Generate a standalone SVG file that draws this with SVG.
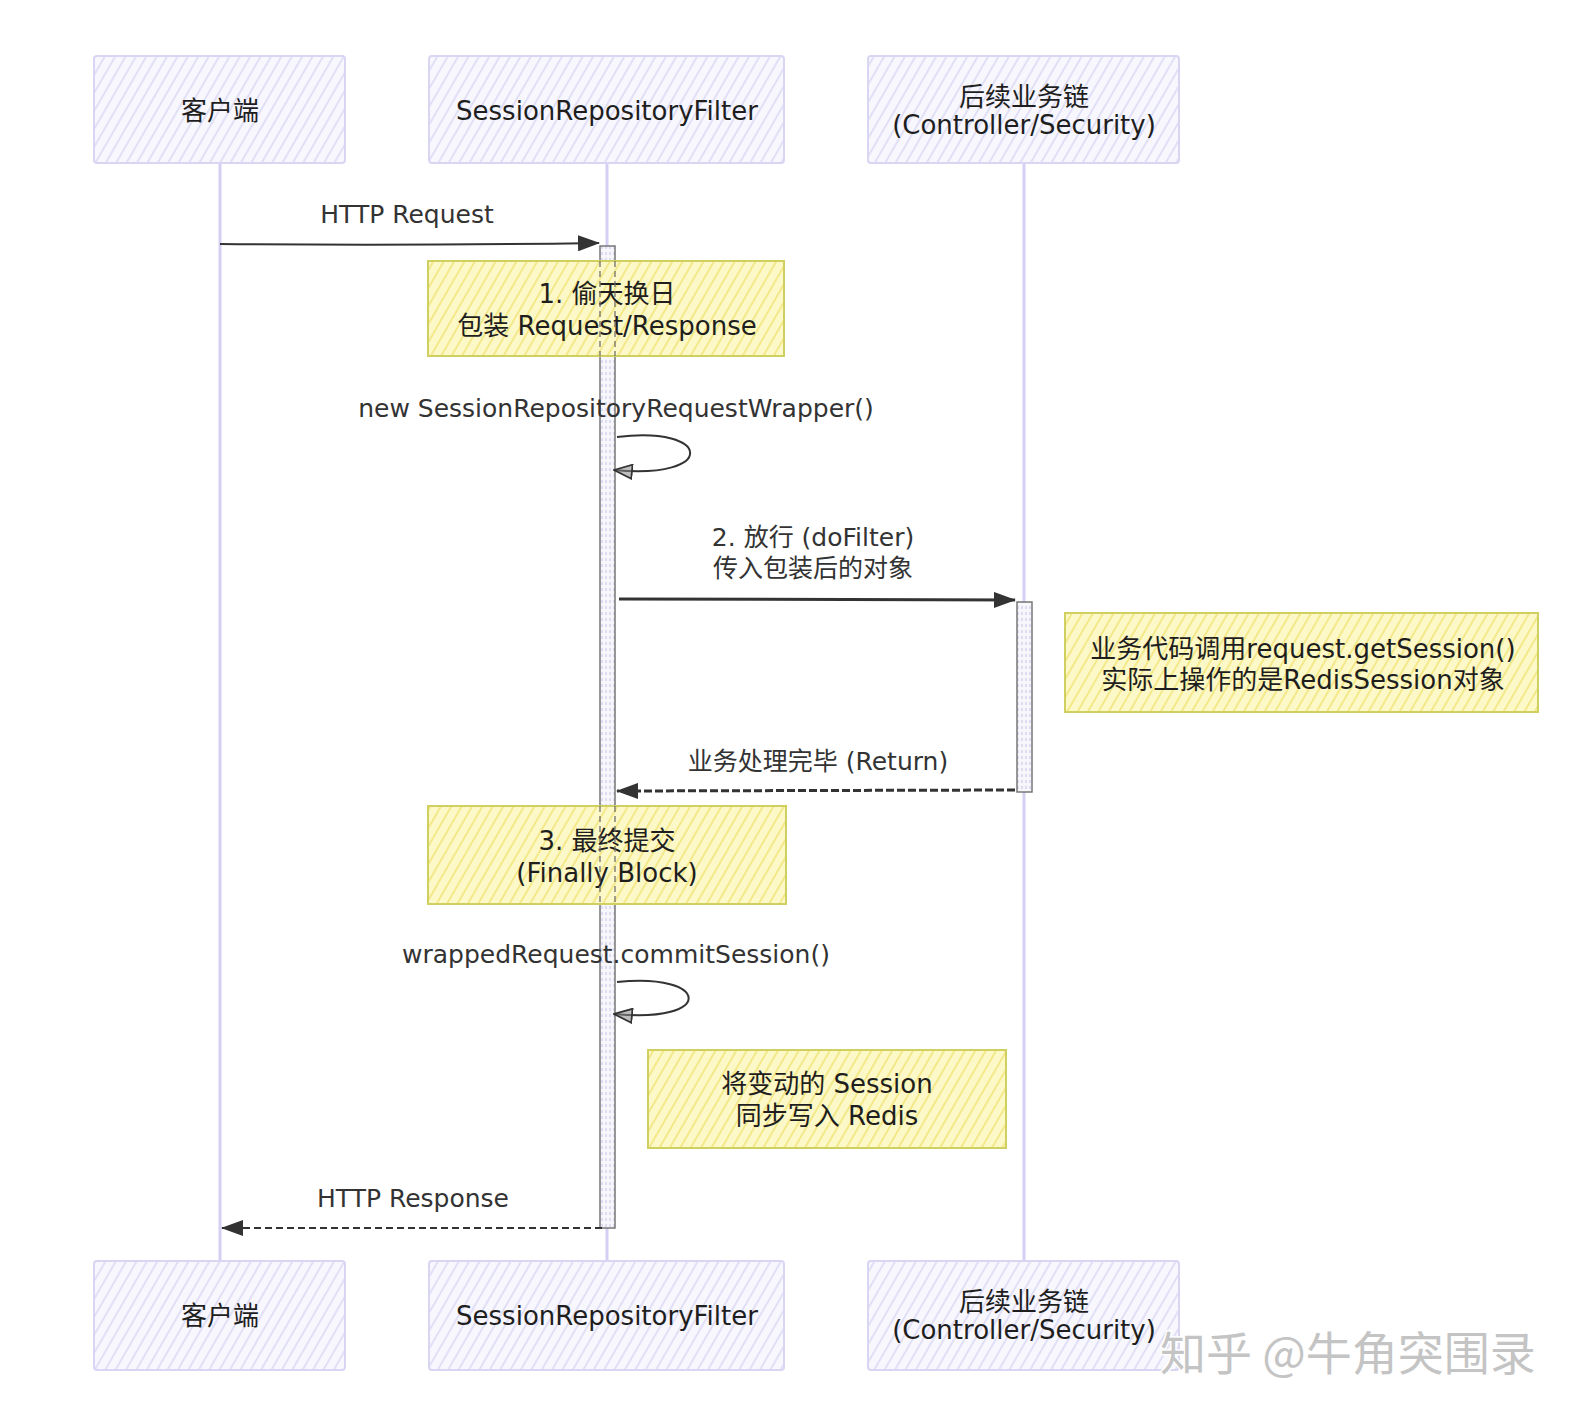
<svg xmlns="http://www.w3.org/2000/svg" width="1586" height="1414" viewBox="0 0 1586 1414">
<defs>
<pattern id="hachP" patternUnits="userSpaceOnUse" width="9" height="9" patternTransform="rotate(30)">
<rect width="9" height="9" fill="#f7f7fd"/>
<line x1="2" y1="0" x2="2" y2="9" stroke="#dcdaf5" stroke-width="1.6"/>
</pattern>
<pattern id="hachN" patternUnits="userSpaceOnUse" width="9" height="9" patternTransform="rotate(30)">
<rect width="9" height="9" fill="#fdf8c8"/>
<line x1="2" y1="0" x2="2" y2="9" stroke="#f3e98a" stroke-width="2"/>
</pattern>
<pattern id="hachA" patternUnits="userSpaceOnUse" width="4" height="6">
<rect width="4" height="6" fill="#f6f6fb"/>
<line x1="2" y1="0" x2="2" y2="3" stroke="#d6d4ef" stroke-width="1.5"/>
</pattern>
<marker id="arrBig" viewBox="0 0 22 16" refX="21" refY="8" markerWidth="22" markerHeight="16" markerUnits="userSpaceOnUse" orient="auto">
<path d="M0,0 L22,8 L0,16 z" fill="#333"/>
</marker>
<marker id="arrOpen" viewBox="0 0 20 16" refX="19" refY="8" markerWidth="20" markerHeight="16" markerUnits="userSpaceOnUse" orient="auto">
<path d="M1,1 L19,8 L1,15 z" fill="#888" fill-opacity="0.55" stroke="#333" stroke-width="1.8"/>
</marker>
</defs>
<style>
.actor{fill:url(#hachP);stroke:#d9d6f3;stroke-width:2}
.note{fill:url(#hachN);stroke:#cfd060;stroke-width:2}
.life{stroke:#d5cff3;stroke-width:3;fill:none}
.act{fill:url(#hachA);stroke:#777;stroke-width:1.5}
.t{font-family:"DejaVu Sans","Noto Sans CJK SC",sans-serif;font-size:26px;fill:#1e1e1e;text-anchor:middle;dominant-baseline:central}
.lbl{font-family:"DejaVu Sans","Noto Sans CJK SC",sans-serif;font-size:25px;fill:#333;text-anchor:middle;dominant-baseline:central}
.msg{stroke:#333;fill:none}
.wm{font-family:"Noto Sans CJK SC",sans-serif;font-size:46px;fill:#c4c4c4;stroke:#fff;stroke-width:3;paint-order:stroke;text-anchor:start;dominant-baseline:central}
</style>
<rect width="1586" height="1414" fill="#fff"/>

<g id="lifelines">
<line class="life" x1="220" y1="163" x2="220" y2="1261"/>
<line class="life" x1="607" y1="163" x2="607" y2="1261"/>
<line class="life" x1="1024" y1="163" x2="1024" y2="1261"/>
</g>

<g id="actor-client-top"><rect class="actor" x="94" y="56" width="251" height="107" rx="3"/><text class="t" x="220" y="111">客户端</text></g>
<g id="actor-filter-top"><rect class="actor" x="429" y="56" width="355" height="107" rx="3"/><text class="t" x="607" y="111">SessionRepositoryFilter</text></g>
<g id="actor-chain-top"><rect class="actor" x="868" y="56" width="311" height="107" rx="3"/><text class="t" x="1024" y="97">后续业务链</text><text class="t" x="1024" y="125">(Controller/Security)</text></g>

<g id="actor-client-bottom"><rect class="actor" x="94" y="1261" width="251" height="109" rx="3"/><text class="t" x="220" y="1316">客户端</text></g>
<g id="actor-filter-bottom"><rect class="actor" x="429" y="1261" width="355" height="109" rx="3"/><text class="t" x="607" y="1316">SessionRepositoryFilter</text></g>
<g id="actor-chain-bottom"><rect class="actor" x="868" y="1261" width="311" height="109" rx="3"/><text class="t" x="1024" y="1302">后续业务链</text><text class="t" x="1024" y="1330">(Controller/Security)</text></g>

<g id="activations">
<rect class="act" x="600" y="246" width="15" height="982"/>
<rect class="act" x="1017" y="602" width="15" height="190"/>
</g>

<g id="note1"><rect class="note" x="428" y="261" width="356" height="95"/><text class="t" x="607" y="294">1. 偷天换日</text><text class="t" x="607" y="326">包装 Request/Response</text></g>
<g id="note2"><rect class="note" x="1065" y="613" width="473" height="99"/><text class="t" x="1303" y="649" font-size="25">业务代码调用request.getSession()</text><text class="t" x="1303" y="680" font-size="25">实际上操作的是RedisSession对象</text></g>
<g id="note3"><rect class="note" x="428" y="806" width="358" height="98"/><text class="t" x="607" y="841">3. 最终提交</text><text class="t" x="607" y="873">(Finally Block)</text></g>
<g id="note4"><rect class="note" x="648" y="1050" width="358" height="98"/><text class="t" x="827" y="1084">将变动的 Session</text><text class="t" x="827" y="1116">同步写入 Redis</text></g>

<g id="activation-edges" fill="none" stroke="#666" stroke-width="1.2" stroke-dasharray="6 4">
<line x1="600" y1="261" x2="600" y2="356"/><line x1="615" y1="261" x2="615" y2="356"/>
<line x1="600" y1="806" x2="600" y2="904"/><line x1="615" y1="806" x2="615" y2="904"/>
</g>

<g id="connectors">
<path class="msg" d="M220,244 Q400,246 599,243" stroke-width="2" marker-end="url(#arrBig)"/>
<text class="lbl" x="407" y="214">HTTP Request</text>

<text class="lbl" x="616" y="408">new SessionRepositoryRequestWrapper()</text>
<path class="msg" d="M617,437 C712,425 718,480 614,470" stroke-width="2" marker-end="url(#arrOpen)"/>

<text class="lbl" x="813" y="537">2. 放行 (doFilter)</text>
<text class="lbl" x="813" y="568">传入包装后的对象</text>
<path class="msg" d="M619,599 L1015,600" stroke-width="3" marker-end="url(#arrBig)"/>

<text class="lbl" x="818" y="761">业务处理完毕 (Return)</text>
<path class="msg" d="M1015,790 L617,791" stroke-width="3" stroke-dasharray="8 3" marker-end="url(#arrBig)"/>

<text class="lbl" x="616" y="954">wrappedRequest.commitSession()</text>
<path class="msg" d="M617,982 C710,972 716,1024 614,1014" stroke-width="2" marker-end="url(#arrOpen)"/>

<text class="lbl" x="413" y="1198">HTTP Response</text>
<path class="msg" d="M602,1228 L222,1228" stroke-width="2" stroke-dasharray="7 4" marker-end="url(#arrBig)"/>
</g>

<text class="wm" x="1160" y="1350">知乎 @牛角突围录</text>
</svg>
